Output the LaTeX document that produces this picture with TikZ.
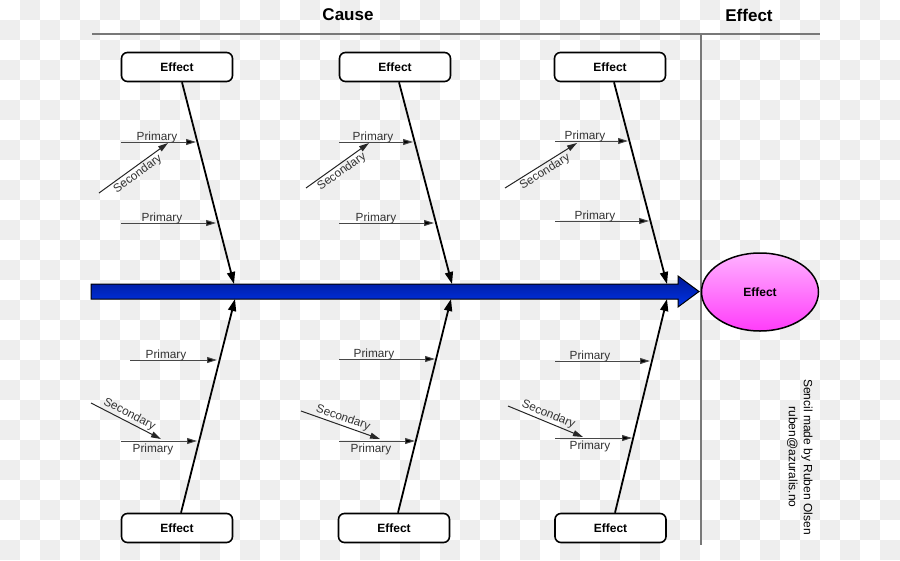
\documentclass[tikz,border=0pt]{standalone}
\usepackage{fontspec}
\setmainfont{Liberation Sans}
\usetikzlibrary{arrows.meta,shapes.geometric,calc}
\definecolor{chk}{RGB}{238,238,238}
\definecolor{frame}{RGB}{120,120,120}
\definecolor{spinetop}{RGB}{0,24,150}
\definecolor{spinebot}{RGB}{0,52,232}
\definecolor{pinktop}{RGB}{255,178,255}
\definecolor{pinkbot}{RGB}{255,60,250}
\begin{document}
\begin{tikzpicture}[x=1pt,y=-1pt,
  effbox/.style={draw=black, line width=1.6pt, rounded corners=6pt, fill=white,
    minimum width=111pt, minimum height=29pt, inner sep=0pt,
    font=\fontsize{12}{14}\selectfont\bfseries},
  bone/.style={draw=black, line width=1.8pt, -{Triangle[length=12pt,width=8pt]}},
  prim/.style={draw=black!72, line width=1pt, -{Triangle[length=10pt,width=6pt,fill=black]}},
  sec/.style={draw=black!85, line width=1pt, -{Triangle[length=10pt,width=6pt]}},
  lab/.style={font=\fontsize{11.8}{14}\selectfont, text=black!80, inner sep=0pt},
  title/.style={font=\fontsize{17}{20}\selectfont\bfseries},
  frameline/.style={draw=frame, line width=2pt}]
\useasboundingbox (0,0) rectangle (900,560);
% checkerboard background
\foreach \i in {0,...,44}{\foreach \j in {0,...,27}{%
  \pgfmathtruncatemacro\s{mod(\i+\j,2)}%
  \ifnum\s=1 \fill[chk] (\i*20,\j*20) rectangle ++(20,20);\fi}}
% titles and frame
\node[title] (cause) at (348,15) {Cause};
\node[title] (efftitle) at (749,15) {Effect};
\coordinate (tl) at (92,34);
\coordinate (tr) at (820,34);
\coordinate (vt) at (701,34);
\coordinate (vb) at (701,545);
\draw[frameline] (tl) -- (tr);
\draw[frameline] (vt) -- (vb);
% spine
\path[draw=black, line width=1pt, top color=spinetop, bottom color=spinebot]
  (91,284) -- (678,284) -- (678,276) -- (699,291.5) -- (678,307) -- (678,299) -- (91,299) -- cycle;
\coordinate (s1t) at (234,284);
\coordinate (s2t) at (452,284);
\coordinate (s3t) at (667,284);
\coordinate (s1b) at (235,299);
\coordinate (s2b) at (451,299);
\coordinate (s3b) at (667,299);
% effect ellipse
\node[ellipse, draw=black, line width=1.5pt, minimum width=117pt, minimum height=78pt,
  top color=pinktop, bottom color=pinkbot, font=\fontsize{12}{14}\selectfont\bfseries]
  (eff) at (760,292) {Effect};
% credits
\node[rotate=-90, align=center, font=\fontsize{12}{15}\selectfont, inner sep=0pt]
  (cred) at (800,457) {Sencil made by Ruben Olsen\\ruben@azuralis.no};
% effect boxes
\node[effbox] (bt1) at (177,67) {Effect};
\node[effbox] (bt2) at (395,67) {Effect};
\node[effbox] (bt3) at (610,67) {Effect};
\node[effbox] (bb1) at (177,528) {Effect};
\node[effbox] (bb2) at (394,528) {Effect};
\node[effbox] (bb3) at (610.5,528) {Effect};
% bones
\draw[bone] ([xshift=5pt]bt1.south) -- (s1t);
\draw[bone] ([xshift=4pt]bt2.south) -- (s2t);
\draw[bone] ([xshift=4pt]bt3.south) -- (s3t);
\draw[bone] ([xshift=4pt]bb1.north) -- (s1b);
\draw[bone] ([xshift=4pt]bb2.north) -- (s2b);
\draw[bone] ([xshift=4.5pt]bb3.north) -- (s3b);
% ---- top group 1
\coordinate (p11a) at (121,142); \coordinate (p11b) at (196,142);
\coordinate (p12a) at (121,223); \coordinate (p12b) at (216,223);
\coordinate (q1a) at (99,193);   \coordinate (q1b) at (168,143);
\draw[prim] (p11a) -- (p11b);
\draw[prim] (p12a) -- (p12b);
\draw[sec] (q1a) -- node[lab, sloped, anchor=north, inner sep=1.5pt] (lq1) {Secondary} (q1b);
\node[lab, anchor=base] (lp11) at (157,140) {Primary};
\node[lab, anchor=base] (lp12) at (162,221) {Primary};
% ---- top group 2
\coordinate (p21a) at (339,142); \coordinate (p21b) at (413,142);
\coordinate (p22a) at (339,223); \coordinate (p22b) at (434,223);
\coordinate (q2a) at (306,188);  \coordinate (q2b) at (369,143);
\draw[prim] (p21a) -- (p21b);
\draw[prim] (p22a) -- (p22b);
\draw[sec] (q2a) -- node[lab, sloped, anchor=north, inner sep=1.5pt] (lq2) {Secondary} (q2b);
\node[lab, anchor=base] (lp21) at (373,140) {Primary};
\node[lab, anchor=base] (lp22) at (376,221) {Primary};
% ---- top group 3
\coordinate (p31a) at (555,141); \coordinate (p31b) at (628,141);
\coordinate (p32a) at (555,221); \coordinate (p32b) at (649,221);
\coordinate (q3a) at (505,188);  \coordinate (q3b) at (577,143);
\draw[prim] (p31a) -- (p31b);
\draw[prim] (p32a) -- (p32b);
\draw[sec] (q3a) -- node[lab, sloped, anchor=north, inner sep=1.5pt] (lq3) {Secondary} (q3b);
\node[lab, anchor=base] (lp31) at (585,139) {Primary};
\node[lab, anchor=base] (lp32) at (595,219) {Primary};
% ---- bottom group 1
\coordinate (r11a) at (130,360); \coordinate (r11b) at (217,360);
\coordinate (r12a) at (121,441); \coordinate (r12b) at (197,441);
\coordinate (t1a) at (91,403);   \coordinate (t1b) at (161,439);
\draw[prim] (r11a) -- (r11b);
\draw[prim] (r12a) -- (r12b);
\draw[sec] (t1a) -- node[lab, sloped, anchor=south, inner sep=1.5pt] (lt1) {Secondary} (t1b);
\node[lab, anchor=base] (lr11) at (166,358) {Primary};
\node[lab, anchor=base] (lr12) at (153,452.5) {Primary};
% ---- bottom group 2
\coordinate (r21a) at (339,359); \coordinate (r21b) at (435,359);
\coordinate (r22a) at (339,441); \coordinate (r22b) at (415,441);
\coordinate (t2a) at (301,411);  \coordinate (t2b) at (380,439);
\draw[prim] (r21a) -- (r21b);
\draw[prim] (r22a) -- (r22b);
\draw[sec] (t2a) -- node[lab, sloped, anchor=south, inner sep=1.5pt] (lt2) {Secondary} (t2b);
\node[lab, anchor=base] (lr21) at (374,357) {Primary};
\node[lab, anchor=base] (lr22) at (371,452.5) {Primary};
% ---- bottom group 3
\coordinate (r31a) at (555,361); \coordinate (r31b) at (650,361);
\coordinate (r32a) at (555,438); \coordinate (r32b) at (632,438);
\coordinate (t3a) at (508,406);  \coordinate (t3b) at (583,437);
\draw[prim] (r31a) -- (r31b);
\draw[prim] (r32a) -- (r32b);
\draw[sec] (t3a) -- node[lab, sloped, anchor=south, inner sep=1.5pt] (lt3) {Secondary} (t3b);
\node[lab, anchor=base] (lr31) at (590,359) {Primary};
\node[lab, anchor=base] (lr32) at (590,449.5) {Primary};
\end{tikzpicture}
\end{document}
